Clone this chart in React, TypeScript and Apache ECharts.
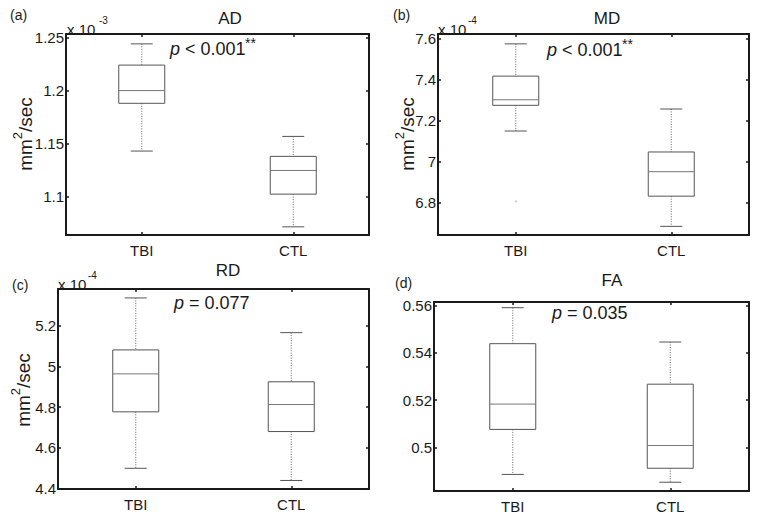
import React, { useEffect, useRef } from "react";
import * as echarts from "echarts";

const FONT = "'Liberation Sans', Arial, Helvetica, sans-serif";

const categories = ["TBI", "CTL"];

// [low whisker, Q1, median, Q3, high whisker]
const adTBI = [1.143, 1.188, 1.2, 1.224, 1.244];
const adCTL = [1.0716, 1.1024, 1.1247, 1.138, 1.1568];
const mdTBI = [7.149, 7.274, 7.301, 7.416, 7.573];
const mdCTL = [6.685, 6.832, 6.951, 7.047, 7.256];
const rdTBI = [4.499, 4.777, 4.964, 5.082, 5.338];
const rdCTL = [4.439, 4.68, 4.813, 4.925, 5.167];
const faTBI = [0.4886, 0.5076, 0.5183, 0.5438, 0.559];
const faCTL = [0.4853, 0.4912, 0.5008, 0.5267, 0.5445];

const mdOutliers = [[0, 6.806]];

const adTicks = [1.1, 1.15, 1.2, 1.25];
const mdTicks = [6.8, 7, 7.2, 7.4, 7.6];
const rdTicks = [4.4, 4.6, 4.8, 5, 5.2];
const faTicks = [0.5, 0.52, 0.54, 0.56];

const adRange = [1.0639, 1.2533];
const mdRange = [6.643, 7.621];
const rdRange = [4.397, 5.382];
const faRange = [0.4816, 0.5614];

const panels = [
  { tbi: adTBI, ctl: adCTL, ticks: adTicks, range: adRange },
  { tbi: mdTBI, ctl: mdCTL, ticks: mdTicks, range: mdRange },
  { tbi: rdTBI, ctl: rdCTL, ticks: rdTicks, range: rdRange },
  { tbi: faTBI, ctl: faCTL, ticks: faTicks, range: faRange },
];

const grids = [
  { left: 66, top: 34, width: 303, height: 201 },
  { left: 438, top: 34, width: 311, height: 201 },
  { left: 58, top: 289, width: 311, height: 200 },
  { left: 434, top: 302, width: 315, height: 189 },
];

const BOX_W = 46;
const CAP_W = 22;
const BOX_COLOR = "#555";
const AXIS_COLOR = "#1a1a1a";
const TEXT_COLOR = "#1a1a1a";

function renderBox(params: any, api: any) {
  const c = api.value(0);
  const lo = api.coord([c, api.value(1)]);
  const q1 = api.coord([c, api.value(2)]);
  const md = api.coord([c, api.value(3)]);
  const q3 = api.coord([c, api.value(4)]);
  const hi = api.coord([c, api.value(5)]);
  const x = lo[0];
  const hw = BOX_W / 2;
  const cw = CAP_W / 2;
  const solid = { stroke: BOX_COLOR, lineWidth: 1 };
  const dotted = { stroke: "#666", lineWidth: 1, lineDash: [1, 1.5] };
  return {
    type: "group",
    children: [
      { type: "line", shape: { x1: x, y1: hi[1], x2: x, y2: q3[1] }, style: dotted },
      { type: "line", shape: { x1: x, y1: q1[1], x2: x, y2: lo[1] }, style: dotted },
      { type: "line", shape: { x1: x - cw, y1: hi[1], x2: x + cw, y2: hi[1] }, style: solid },
      { type: "line", shape: { x1: x - cw, y1: lo[1], x2: x + cw, y2: lo[1] }, style: solid },
      {
        type: "rect",
        shape: { x: x - hw, y: q3[1], width: BOX_W, height: q1[1] - q3[1] },
        style: { fill: "none", stroke: BOX_COLOR, lineWidth: 1 },
      },
      { type: "line", shape: { x1: x - hw, y1: md[1], x2: x + hw, y2: md[1] }, style: { stroke: "#777", lineWidth: 1 } },
    ],
  };
}

function fmt(v: number) {
  return String(+Number(v).toFixed(3));
}

function txt(text: string, x: number, y: number, size: number, extra: any = {}) {
  return {
    type: "text",
    x,
    y,
    silent: true,
    style: {
      text,
      fill: TEXT_COLOR,
      fontFamily: FONT,
      fontSize: size,
      textAlign: extra.align || "left",
      textVerticalAlign: "middle",
      fontStyle: extra.italic ? "italic" : "normal",
    },
  };
}

function ylabel(x: number, y: number) {
  return {
    type: "text",
    x,
    y,
    rotation: Math.PI / 2,
    silent: true,
    style: {
      text: "{a|mm}{s|2}{a|/sec}",
      fill: TEXT_COLOR,
      textAlign: "center",
      textVerticalAlign: "middle",
      rich: {
        a: { fontSize: 19, fontFamily: FONT, fill: TEXT_COLOR, lineHeight: 24, verticalAlign: "bottom" },
        s: { fontSize: 13, fontFamily: FONT, fill: TEXT_COLOR, verticalAlign: "top" },
      },
    },
  };
}

function pText(pre: string, x: number, y: number, stars: boolean) {
  const els: any[] = [
    {
      type: "text",
      x,
      y,
      silent: true,
      style: {
        text: "{i|p}{a|" + pre + "}",
        textAlign: "left",
        textVerticalAlign: "middle",
        rich: {
          i: { fontSize: 18, fontFamily: FONT, fontStyle: "italic", fill: TEXT_COLOR },
          a: { fontSize: 18, fontFamily: FONT, fill: TEXT_COLOR },
        },
      },
    },
  ];
  if (stars) els.push(txt("**", x + 75, y - 6, 14));
  return els;
}

export default function App() {
  const ref = useRef<HTMLDivElement>(null);
  useEffect(() => {
    document.body.style.margin = "0";
    if (!ref.current) return;
    const chart = echarts.init(ref.current, undefined, { renderer: "svg" });

    const xAxis: any[] = [];
    const yAxis: any[] = [];
    const series: any[] = [];

    panels.forEach((p, i) => {
      const axisLine = { show: true, onZero: false, lineStyle: { color: AXIS_COLOR, width: 2 } };
      const tick = { show: true, inside: true, length: 3, lineStyle: { color: AXIS_COLOR, width: 1.5 } };
      xAxis.push({
        type: "category",
        gridIndex: i,
        data: categories,
        position: "bottom",
        axisLine,
        axisTick: { ...tick, alignWithLabel: true },
        axisLabel: { fontSize: 15, color: TEXT_COLOR, fontFamily: FONT, margin: 8 },
        splitLine: { show: false },
      });
      xAxis.push({
        type: "category",
        gridIndex: i,
        data: categories,
        position: "top",
        axisLine,
        axisTick: { ...tick, alignWithLabel: true },
        axisLabel: { show: false },
        splitLine: { show: false },
      });
      yAxis.push({
        type: "value",
        gridIndex: i,
        min: p.range[0],
        max: p.range[1],
        position: "left",
        axisLine,
        axisTick: { ...tick, customValues: p.ticks },
        axisLabel: {
          customValues: p.ticks,
          formatter: fmt,
          fontSize: 15,
          color: TEXT_COLOR,
          fontFamily: FONT,
          margin: 2,
        },
        splitLine: { show: false },
      });
      yAxis.push({
        type: "value",
        gridIndex: i,
        min: p.range[0],
        max: p.range[1],
        position: "right",
        axisLine,
        axisTick: { ...tick, customValues: p.ticks },
        axisLabel: { show: false },
        splitLine: { show: false },
      });
      series.push({
        type: "custom",
        coordinateSystem: "cartesian2d",
        xAxisIndex: 2 * i,
        yAxisIndex: 2 * i,
        renderItem: renderBox,
        data: [
          [0, ...p.tbi],
          [1, ...p.ctl],
        ],
        silent: true,
      });
    });

    series.push({
      type: "scatter",
      xAxisIndex: 2,
      yAxisIndex: 2,
      data: mdOutliers,
      symbol: "circle",
      symbolSize: 2,
      itemStyle: { color: "#bbb" },
      silent: true,
    });

    const graphic: any[] = [
      // panel a
      txt("(a)", 10, 15, 14),
      txt("AD", 230, 18, 17, { align: "center" }),
      txt("x 10", 67, 29, 15),
      txt("-3", 99, 20, 10),
      ylabel(23, 134),
      ...pText(" < 0.001", 170, 49, true),
      // panel b
      txt("(b)", 393, 15, 14),
      txt("MD", 607, 18, 17, { align: "center" }),
      txt("x 10", 438, 29, 15),
      txt("-4", 468, 20, 10),
      ylabel(405, 134),
      ...pText(" < 0.001", 547, 50, true),
      // panel c
      txt("(c)", 12, 285, 14),
      txt("RD", 228, 270, 17, { align: "center" }),
      txt("x 10", 58, 284, 15),
      txt("-4", 88, 275, 10),
      ylabel(21, 390),
      ...pText(" = 0.077", 174, 303, false),
      // panel d
      txt("(d)", 395, 283, 14),
      txt("FA", 612, 280, 17, { align: "center" }),
      ...pText(" = 0.035", 552, 313, false),
    ];

    chart.setOption({
      animation: false,
      backgroundColor: "#fff",
      grid: grids.map((g) => ({ ...g, containLabel: false, outerBoundsMode: "none" })),
      xAxis,
      yAxis,
      series,
      graphic,
    });
    return () => chart.dispose();
  }, []);
  return <div ref={ref} style={{ width: 762, height: 520 }} />;
}
